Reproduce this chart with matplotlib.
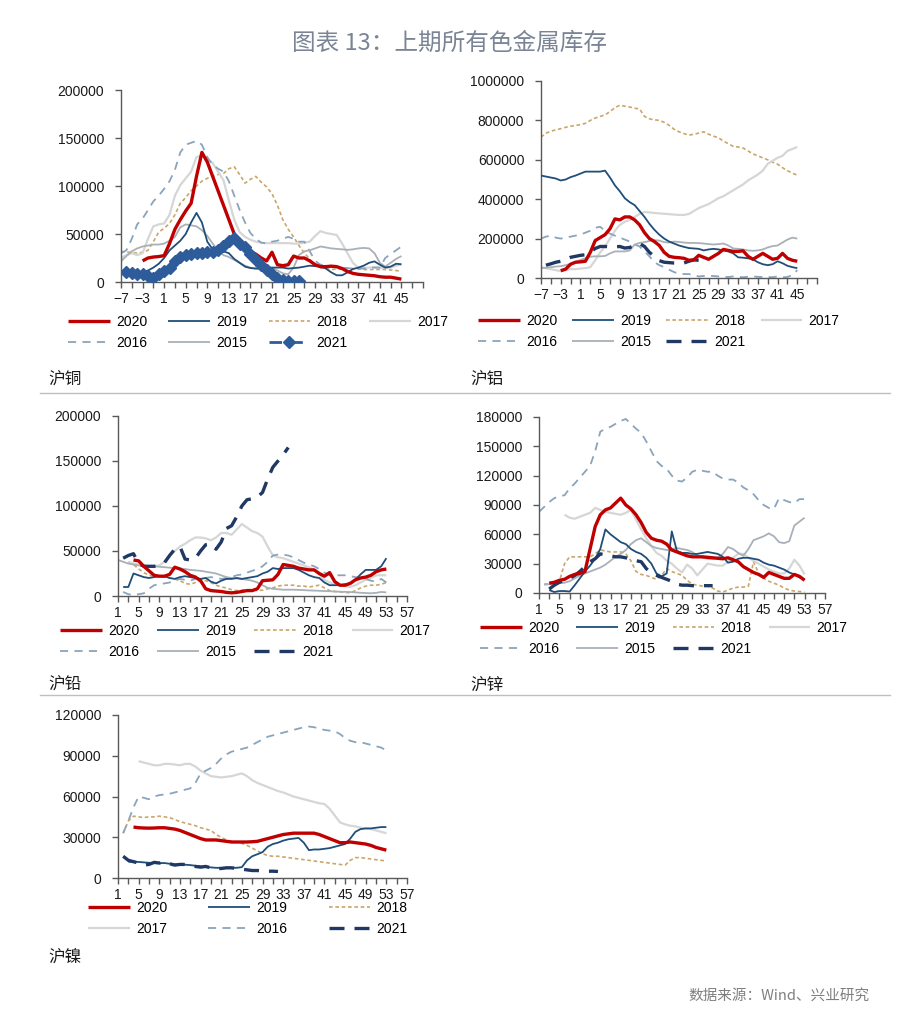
import matplotlib
matplotlib.use("Agg")
import matplotlib.pyplot as plt
from matplotlib.lines import Line2D
import numpy as np

plt.rcParams['font.family'] = ['Liberation Sans', 'Noto Sans CJK SC', 'DejaVu Sans']
plt.rcParams['axes.unicode_minus'] = True

YEARS = ['2020', '2019', '2018', '2017', '2016', '2015', '2021']

# ---------------- 沪铜 (copper) ----------------
CU_2020_START = -3
CU_2020 = [22000, 25000, 26000, 26500, 27500, 40000, 55000, 65000, 74000, 82000, 110000, 135000, 125000, 110000,
           95000, 80000, 65000, 50000, 40000, 35000, 32000, 29000, 25000, 22000, 31000, 18000, 17000, 18000, 27000,
           25000, 25000, 22000, 18000, 16000, 16000, 16500, 16000, 14000, 11000, 9000, 8000, 7500, 7000, 6500, 5500,
           5000, 5000, 4000, 3000]
CU_2019_START = -7
CU_2019 = [10000, 9000, 8500, 9000, 10000, 12000, 15000, 19000, 25000, 33000, 38000, 43000, 50000, 62000, 72000,
           62000, 42000, 34000, 32000, 32000, 30000, 24000, 20000, 16000, 14500, 14000, 14500, 15000, 15000, 15000,
           15000, 14000, 14500, 15000, 16000, 17000, 16500, 16000, 14000, 10000, 7000, 7000, 10000, 13500, 15000,
           17000, 20000, 21500, 18000, 15000, 16000, 19000, 18500]
CU_2018_START = -7
CU_2018 = [32000, 31000, 31000, 30000, 31000, 33000, 42000, 52000, 56000, 61000, 70000, 82000, 88000, 95000, 100000,
           105000, 108000, 110000, 112000, 113000, 118000, 120000, 112000, 103000, 107000, 110000, 104000, 99000,
           92000, 80000, 65000, 55000, 47000, 38000, 30000, 24000, 17000, 15000, 14000, 13000, 13500, 13500, 14000,
           14000, 13500, 13000, 13000, 13000, 13000, 13000, 12500, 12000, 11000]
CU_2017_START = -7
CU_2017 = [25000, 28000, 30000, 28000, 30000, 45000, 58000, 60000, 61000, 70000, 90000, 101000, 108000, 115000,
           130000, 132000, 128000, 124000, 115000, 106000, 85000, 65000, 52000, 47000, 44000, 42000, 41000, 40500,
           40500, 40500, 40500, 40500, 40000, 40000, 41000, 42000, 48000, 53000, 51000, 50000, 49000, 40000, 30000,
           20000, 15000, 14500, 15000, 15500, 15000, 14500, 15000, 17000, 18000]
CU_2016_START = -7
CU_2016 = [30000, 33000, 45000, 60000, 66000, 75000, 84000, 90000, 97000, 105000, 117000, 135000, 143000, 145000,
           147000, 143000, 130000, 122000, 118000, 115000, 105000, 90000, 75000, 62000, 51000, 45000, 41000, 40000,
           42000, 43000, 45000, 47000, 45000, 42000, 42000, 32000, 22000, 18000, 17000, 16000, 15000, 15000, 14500,
           14000, 14000, 14000, 14500, 15000, 15000, 25000, 29000, 33000, 37000]
CU_2015_START = -7
CU_2015 = [21500, 27000, 32000, 35000, 37000, 38000, 39000, 39000, 40000, 43000, 47000, 57000, 60000, 59000, 58000,
           54000, 48000, 40000, 33000, 28000, 26000, 23000, 20000, 17000, 15000, 14000, 13000, 14000, 14500, 12000,
           9000, 8000, 15000, 28000, 32000, 33000, 35000, 37000, 36000, 35000, 34500, 34000, 33500, 34000, 35000,
           35500, 35000, 30000, 20000, 16000, 20000, 24000, 27000]
CU_2021_START = -6
CU_2021 = [10000, 9000, 8500, 8000, 6000, 4000, 8000, 11000, 14500, 22000, 26000, 28000, 29000, 30000, 30500, 31000,
           31000, 33000, 37000, 43000, 46000, 40000, 36000, 29000, 23000, 18000, 13000, 8000, 4000, 2000, 1500,
           1000, 1000]

# ---------------- 沪铝 (aluminium) ----------------
AL_2020_START = -3
AL_2020 = [37000, 45000, 70000, 80000, 82000, 85000, 130000, 190000, 205000, 220000, 250000, 300000, 295000, 310000,
           310000, 295000, 270000, 230000, 200000, 185000, 165000, 130000, 110000, 105000, 103000, 100000, 90000,
           92000, 115000, 105000, 95000, 110000, 125000, 145000, 140000, 135000, 135000, 138000, 110000, 95000,
           110000, 125000, 110000, 95000, 100000, 125000, 100000, 90000, 85000]
AL_2019_START = -7
AL_2019 = [520000, 515000, 510000, 505000, 495000, 500000, 512000, 520000, 530000, 540000, 540000, 540000, 540000,
           545000, 510000, 470000, 440000, 405000, 385000, 370000, 340000, 310000, 275000, 245000, 220000, 200000,
           185000, 175000, 165000, 158000, 152000, 150000, 148000, 140000, 145000, 148000, 145000, 140000, 135000,
           125000, 105000, 103000, 100000, 95000, 80000, 70000, 65000, 70000, 85000, 75000, 62000, 55000, 50000]
AL_2018_START = -7
AL_2018 = [715000, 735000, 745000, 752000, 758000, 765000, 770000, 775000, 778000, 785000, 800000, 812000, 820000,
           828000, 845000, 865000, 877000, 872000, 868000, 862000, 858000, 820000, 808000, 803000, 800000, 790000,
           775000, 755000, 742000, 733000, 725000, 730000, 735000, 742000, 730000, 720000, 712000, 695000, 682000,
           668000, 665000, 660000, 645000, 630000, 620000, 610000, 600000, 588000, 578000, 560000, 545000, 532000,
           522000]
AL_2017_START = -7
AL_2017 = [55000, 50000, 45000, 40000, 35000, 40000, 45000, 45000, 48000, 50000, 55000, 90000, 130000, 160000,
           200000, 240000, 270000, 285000, 295000, 310000, 325000, 335000, 333000, 330000, 328000, 326000, 324000,
           322000, 320000, 320000, 325000, 340000, 355000, 365000, 375000, 390000, 405000, 415000, 430000, 445000,
           460000, 475000, 495000, 510000, 525000, 545000, 580000, 595000, 610000, 620000, 645000, 655000, 665000]
AL_2016_START = -7
AL_2016 = [200000, 210000, 215000, 205000, 200000, 205000, 210000, 215000, 220000, 230000, 240000, 255000, 260000,
           240000, 225000, 215000, 205000, 195000, 185000, 170000, 160000, 135000, 110000, 80000, 65000, 55000,
           42000, 30000, 22000, 20000, 20000, 15000, 8000, 10000, 12000, 10000, 8000, 6000, 5000, 8000, 5000, 4000,
           6000, 8000, 6000, 5000, 5000, 4000, 8000, 3000, 5000, 15000, 40000]
AL_2015_START = -7
AL_2015 = [50000, 52000, 55000, 58000, 60000, 65000, 72000, 80000, 92000, 100000, 108000, 110000, 110000, 112000,
           125000, 135000, 135000, 135000, 140000, 170000, 178000, 182000, 188000, 192000, 190000, 182000, 180000,
           185000, 183000, 180000, 178000, 178000, 177000, 175000, 172000, 170000, 172000, 175000, 165000, 150000,
           148000, 145000, 140000, 138000, 140000, 145000, 155000, 162000, 165000, 180000, 195000, 205000, 200000]
AL_2021_START = -6
AL_2021 = [65000, 72000, 80000, 85000, 95000, 105000, 110000, 115000, 118000, 130000, 150000, 160000, 160000,
           158000, 158000, 160000, 152000, 155000, 165000, 175000, 160000, 130000, 110000, 88000, 80000, 78000,
           76000, 76000, 76000, 85000, 92000, 90000, 85000]

# ---------------- 沪铅 (lead) ----------------
PB_2020_START = 4
PB_2020 = [40000, 39000, 33000, 28000, 23000, 22000, 22000, 24000, 32000, 30000, 27000, 23000, 21000, 17000, 8000,
           6000, 5500, 5000, 4000, 3500, 4000, 5000, 6000, 6000, 8000, 17000, 17500, 18000, 24000, 35000, 34000,
           33000, 31000, 30000, 29000, 29000, 25000, 22000, 26000, 16000, 12000, 12000, 14000, 18000, 20000, 21000,
           23000, 27000, 29000, 30000]
PB_2019_START = 2
PB_2019 = [10000, 10000, 25000, 23000, 21000, 20000, 21000, 22000, 22000, 20000, 19000, 21000, 22000, 21000, 20000,
           19000, 20000, 16000, 14000, 17000, 19000, 19000, 20000, 19000, 20000, 21000, 22000, 25000, 27000, 31000,
           30000, 31000, 31000, 31000, 29000, 26000, 23000, 21000, 20000, 15000, 12000, 12000, 12000, 13000, 14000,
           18000, 24000, 29000, 29000, 29000, 33000, 42000]
PB_2018_START = 3
PB_2018 = [38000, 35000, 30000, 26000, 23000, 22000, 22000, 21000, 20000, 19000, 17000, 14000, 13000, 15000, 17000,
           17000, 15000, 12000, 10000, 9000, 7000, 6000, 6500, 7000, 7000, 6000, 6500, 8000, 9000, 11000, 12000,
           12000, 12000, 11000, 11000, 10000, 11000, 12000, 9000, 6000, 5000, 4500, 4000, 3500, 6000, 9000, 11000,
           12000, 12000, 13000, 15000]
PB_2017_START = 3
PB_2017 = [38000, 36000, 35000, 34000, 33000, 33000, 34000, 38000, 45000, 50000, 55000, 58000, 62000, 65000, 65000,
           64000, 62000, 65000, 70000, 70000, 68000, 74000, 80000, 76000, 72000, 70000, 66000, 55000, 45000, 43000,
           42000, 40000, 38000, 36000, 34000, 32000, 29000, 24000, 18000, 15000, 13000, 12000, 11000, 10000, 12000,
           15000, 18000, 20000, 23000, 23000, 23000]
PB_2016_START = 2
PB_2016 = [4500, 2000, 1000, 2000, 3000, 8000, 12000, 13000, 14000, 15000, 17000, 19000, 18000, 17000, 19000, 20000,
           20000, 21000, 20000, 19000, 20000, 21000, 23000, 24000, 26000, 28000, 30000, 33000, 38000, 45000, 46000,
           46000, 45000, 43000, 40000, 37000, 35000, 33000, 30000, 26000, 23000, 23000, 23000, 23000, 22000, 21000,
           20000, 19000, 17000, 16000, 19000, 15000]
PB_2015_START = 1
PB_2015 = [40000, 38000, 36000, 35000, 34000, 33500, 33000, 33000, 32500, 32000, 31500, 31000, 30500, 30000, 29000,
           28500, 28000, 27000, 26000, 25000, 23000, 21000, 20000, 19500, 19000, 18000, 17000, 15000, 12000, 9000,
           8000, 7500, 7000, 7000, 7000, 6800, 6500, 6200, 6000, 5800, 5500, 5300, 5000, 4800, 4600, 4400, 4000,
           3600, 3300, 3000, 3500, 4500, 4000]
PB_2021_START = 2
PB_2021 = [42000, 45000, 47000, 36000, 33000, 33000, 33000, 34000, 37000, 45000, 52000, 55000, 41000, 40000, 42000,
           50000, 57000, 58000, 52000, 60000, 75000, 78000, 88000, 100000, 107000, 108000, 110000, 115000, 130000,
           143000, 150000, 157000, 165000]

# ---------------- 沪锌 (zinc) ----------------
ZN_2020_START = 3
ZN_2020 = [10000, 11000, 13000, 14000, 17000, 19000, 20000, 22000, 45000, 68000, 80000, 85000, 87000, 92000, 97000,
           90000, 86000, 80000, 72000, 62000, 56000, 54000, 53000, 50000, 44000, 42000, 40000, 38000, 37000, 37000,
           37000, 36500, 36000, 35500, 35000, 36000, 34000, 32000, 27000, 24000, 21000, 19000, 16000, 21000, 19000,
           17000, 15000, 15000, 19000, 17000, 13000]
ZN_2019_START = 3
ZN_2019 = [3000, 1000, 2000, 2000, 1500, 8000, 15000, 22000, 28000, 35000, 45000, 65000, 60000, 56000, 52000, 50000,
           45000, 42000, 40000, 36000, 30000, 20000, 17000, 20000, 63000, 43000, 41000, 41000, 40000, 40000, 41000,
           42000, 41000, 40000, 37000, 31000, 32000, 35000, 36000, 36000, 35000, 34000, 31000, 29000, 28000, 26000,
           24000, 21000, 19000, 16000, 14000]
ZN_2018_START = 2
ZN_2018 = [9000, 9500, 10000, 12000, 30000, 37000, 37000, 37000, 37000, 37000, 40000, 44000, 43000, 42000, 42000,
           42000, 40000, 33000, 22000, 19000, 18000, 16000, 14000, 18000, 25000, 22000, 20000, 18000, 13000, 9000,
           8000, 7000, 7000, 5000, 2000, 1000, 3000, 5000, 6000, 6000, 7000, 32000, 20000, 15000, 12000, 10000,
           8000, 5000, 3000, 2000, 1500, 1000]
ZN_2017_START = 6
ZN_2017 = [80000, 77000, 76000, 78000, 80000, 82000, 87000, 85000, 83000, 82000, 81000, 80000, 82000, 85000, 75000,
           65000, 56000, 48000, 41000, 38000, 33000, 30000, 25000, 21000, 29000, 25000, 18000, 24000, 30000, 29000,
           28000, 28000, 32000, 36000, 40000, 40000, 36000, 33000, 30000, 27000, 24000, 22000, 20000, 20000, 25000,
           34000, 28000, 19000]
ZN_2016_START = 1
ZN_2016 = [83000, 88000, 93000, 97000, 99000, 100000, 107000, 112000, 118000, 124000, 130000, 145000, 165000,
           168000, 170000, 173000, 176000, 178000, 173000, 168000, 164000, 155000, 145000, 135000, 130000, 127000,
           120000, 115000, 114000, 118000, 124000, 126000, 125000, 124000, 124000, 120000, 117000, 116000, 116000,
           113000, 108000, 105000, 101000, 95000, 90000, 87000, 86000, 97000, 95000, 93000, 92000, 96000, 96000]
ZN_2015_START = 2
ZN_2015 = [8500, 9000, 9500, 10000, 10500, 12000, 15000, 18000, 20000, 22000, 24000, 26000, 29000, 33000, 37000,
           40000, 44000, 50000, 54000, 56000, 52000, 48000, 46000, 45000, 44000, 45000, 46000, 45000, 44000, 42000,
           38000, 36000, 35000, 35000, 36000, 40000, 47000, 45000, 41000, 38000, 45000, 54000, 56000, 58000, 61000,
           58000, 52000, 51000, 53000, 69000, 73000, 77000]
ZN_2021_START = 3
ZN_2021 = [4000, 8000, 11000, 13000, 15000, 18000, 22000, 27000, 32000, 35000, 40000, 39000, 38000, 37000, 37000,
           36000, 34000, 33000, 32000, 25000, 20000, 18000, 16000, 14000, 12000, 9000, 8000, 8000, 7500, 7500, 7500,
           7500, 7500]

# ---------------- 沪镍 (nickel) ----------------
NI_2020_START = 4
NI_2020 = [37500, 37000, 36800, 36700, 36800, 37000, 37000, 36500, 36000, 35000, 33500, 32000, 30500, 29000, 28000,
           28000, 28000, 27500, 27000, 26500, 26500, 26500, 26500, 26700, 27000, 28000, 29000, 30000, 31000, 32000,
           32500, 33000, 33000, 33000, 33000, 33000, 32000, 30500, 29000, 27500, 26000, 26000, 26500, 26000, 25500,
           25000, 24000, 22500, 21500, 20500]
NI_2019_START = 3
NI_2019 = [12000, 12000, 11800, 11500, 11200, 11000, 11000, 11000, 10500, 10000, 10000, 9800, 9500, 9000, 8500, 8000,
           7800, 7500, 7500, 7500, 7500, 7500, 8000, 13000, 16000, 17500, 19000, 23000, 25000, 26000, 27500, 28500,
           29000, 29500, 26000, 20500, 21000, 21000, 21500, 22000, 23000, 24000, 25000, 29000, 34000, 36000, 36500,
           36500, 37000, 37500, 37500]
NI_2018_START = 2
NI_2018 = [33000, 42000, 45500, 45000, 44500, 45000, 45000, 45500, 45000, 44500, 43000, 41500, 40500, 39500, 38500,
           37000, 36000, 35000, 32000, 30000, 28000, 27000, 26500, 25500, 24000, 22000, 20000, 18000, 16500, 16000,
           16000, 15500, 15000, 14500, 14000, 13500, 13000, 12500, 12000, 11500, 11000, 10500, 10000, 9500, 13000,
           15000, 15000, 14500, 14000, 13500, 13000, 12500]
NI_2017_START = 5
NI_2017 = [86000, 85000, 84000, 83000, 83000, 84000, 84000, 83500, 83000, 84000, 84000, 82000, 79000, 77000, 75000,
           74500, 74000, 74500, 75000, 76000, 77000, 75000, 72000, 70000, 68500, 67000, 65500, 64000, 63000, 61500,
           60000, 59000, 58000, 57000, 56000, 55000, 54500, 51000, 46000, 41000, 39500, 38500, 38000, 37000, 36500,
           36000, 35000, 34000, 33000]
NI_2016_START = 2
NI_2016 = [33000, 42000, 52000, 60000, 59000, 58000, 60000, 61000, 61500, 62000, 63000, 64000, 65000, 66000, 70000,
           77000, 79000, 81000, 84000, 88000, 91000, 93000, 94000, 95000, 96000, 98000, 100000, 102000, 104000,
           105000, 106000, 107000, 108000, 109000, 110000, 111000, 111500, 111000, 110000, 109000, 108500, 108000,
           106000, 103000, 101000, 100000, 100000, 99000, 98000, 97000, 96000, 94000]
NI_2021_START = 2
NI_2021 = [16000, 13000, 12000, 11000, 9500, 10000, 11500, 11000, 12000, 10500, 9500, 10000, 10000, 9000, 8500, 8000,
           8500, 7500, 7000, 7000, 7500, 7500, 7000, 6500, 6000, 5500, 5500, 5200, 5000, 5000, 4800]

# ---------------- styles ----------------
STYLE = {
    '2020': dict(color='#c00000', lw=2.4, ls='-'),
    '2019': dict(color='#1f4e79', lw=1.3, ls='-'),
    '2018': dict(color='#c9a66b', lw=1.2, ls=(0, (2.2, 1.6))),
    '2017': dict(color='#d6d6d6', lw=1.6, ls='-'),
    '2016': dict(color='#8aa4bc', lw=1.3, ls=(0, (4.5, 3.5))),
    '2015': dict(color='#a9b0b7', lw=1.3, ls='-'),
    '2021': dict(color='#1f3864', lw=2.4, ls=(0, (4.5, 3.0))),
}

W, H = 900, 1016
fig = plt.figure(figsize=(W / 100, H / 100), dpi=100)
FS = 10


def add_ax(l, r, t, b):
    return fig.add_axes([l / W, 1 - b / H, (r - l) / W, (b - t) / H])


def draw_panel(ax, series, xlim, xlabels, yticks, copper=False):
    handles = {}
    for year, (start, vals) in series.items():
        x = np.arange(start, start + len(vals))
        st = STYLE[year]
        if copper and year == '2021':
            h, = ax.plot(x, vals, color='#2e5c9a', lw=2.0, ls=(0, (4.5, 3.0)), marker='D',
                         markersize=6.5, markerfacecolor='#2e5c9a', markeredgecolor='#2e5c9a', zorder=5)
        else:
            z = 4 if year == '2020' else (3 if year in ('2019', '2021') else 2)
            h, = ax.plot(x, vals, color=st['color'], lw=st['lw'], ls=st['ls'], zorder=z,
                         solid_capstyle='butt', dash_capstyle='butt')
        handles[year] = h
    ax.set_xlim(*xlim)
    ax.set_ylim(yticks[0], yticks[-1])
    ax.set_yticks(yticks)
    ax.set_yticklabels([str(v) for v in yticks])
    ax.set_xticks(xlabels)
    ax.set_xticklabels([str(v).replace('-', '\u2212') for v in xlabels])
    ax.set_xticks(np.arange(xlim[0], xlim[1] + 1, 2), minor=True)
    for s in ('top', 'right'):
        ax.spines[s].set_visible(False)
    for s in ('left', 'bottom'):
        ax.spines[s].set_color('#595959')
        ax.spines[s].set_linewidth(1.0)
    ax.tick_params(axis='both', which='both', direction='out', length=4, width=1.0, color='#595959',
                   labelsize=FS, labelcolor='#1a1a1a')
    ax.tick_params(axis='y', which='major', pad=8)
    ax.tick_params(axis='x', which='major', pad=3)
    ax.patch.set_alpha(0)
    return handles


def add_legend(handles, order, ncol, x, y, colsp):
    nrows = -(-len(order) // ncol)
    colmajor = []
    for c in range(ncol):
        for r in range(nrows):
            i = r * ncol + c
            if i < len(order):
                colmajor.append(order[i])
    leg = fig.legend([handles[k] for k in colmajor], colmajor, loc='upper left',
                     bbox_to_anchor=(x / W, 1 - y / H), ncol=ncol, frameon=False,
                     fontsize=FS, handlelength=3.0, handletextpad=0.45, columnspacing=colsp,
                     labelspacing=0.5, borderpad=0, borderaxespad=0, numpoints=1)
    return leg


# Panel 1: copper
ax1 = add_ax(121, 423, 90, 282)
h1 = draw_panel(ax1, {'2020': (CU_2020_START, CU_2020), '2019': (CU_2019_START, CU_2019),
                      '2018': (CU_2018_START, CU_2018), '2017': (CU_2017_START, CU_2017),
                      '2016': (CU_2016_START, CU_2016), '2015': (CU_2015_START, CU_2015),
                      '2021': (CU_2021_START, CU_2021)},
                (-7, 49), list(range(-7, 46, 4)), [0, 50000, 100000, 150000, 200000], copper=True)
add_legend(h1, YEARS, 4, 68, 315, 1.53)

# Panel 2: aluminium
ax2 = add_ax(541, 817, 81, 278)
h2 = draw_panel(ax2, {'2018': (AL_2018_START, AL_2018), '2017': (AL_2017_START, AL_2017),
                      '2016': (AL_2016_START, AL_2016), '2015': (AL_2015_START, AL_2015),
                      '2019': (AL_2019_START, AL_2019), '2021': (AL_2021_START, AL_2021),
                      '2020': (AL_2020_START, AL_2020)},
                (-7, 49), list(range(-7, 46, 4)), [0, 200000, 400000, 600000, 800000, 1000000])
add_legend(h2, YEARS, 4, 478, 314, 1.09)

# Panel 3: lead
ax3 = add_ax(118, 407, 416, 596)
h3 = draw_panel(ax3, {'2018': (PB_2018_START, PB_2018), '2017': (PB_2017_START, PB_2017),
                      '2016': (PB_2016_START, PB_2016), '2015': (PB_2015_START, PB_2015),
                      '2019': (PB_2019_START, PB_2019), '2021': (PB_2021_START, PB_2021),
                      '2020': (PB_2020_START, PB_2020)},
                (1, 57), list(range(1, 58, 4)), [0, 50000, 100000, 150000, 200000])
add_legend(h3, YEARS, 4, 60, 624, 1.31)

# Panel 4: zinc
ax4 = add_ax(539, 825, 417, 593)
h4 = draw_panel(ax4, {'2018': (ZN_2018_START, ZN_2018), '2017': (ZN_2017_START, ZN_2017),
                      '2016': (ZN_2016_START, ZN_2016), '2015': (ZN_2015_START, ZN_2015),
                      '2019': (ZN_2019_START, ZN_2019), '2021': (ZN_2021_START, ZN_2021),
                      '2020': (ZN_2020_START, ZN_2020)},
                (1, 57), list(range(1, 58, 4)), [0, 30000, 60000, 90000, 120000, 150000, 180000])
add_legend(h4, YEARS, 4, 480, 621, 1.24)

# Panel 5: nickel
ax5 = add_ax(118, 407, 715, 878)
h5 = draw_panel(ax5, {'2018': (NI_2018_START, NI_2018), '2017': (NI_2017_START, NI_2017),
                      '2016': (NI_2016_START, NI_2016), '2019': (NI_2019_START, NI_2019),
                      '2021': (NI_2021_START, NI_2021), '2020': (NI_2020_START, NI_2020)},
                (1, 57), list(range(1, 58, 4)), [0, 30000, 60000, 90000, 120000])
add_legend(h5, ['2020', '2019', '2018', '2017', '2016', '2021'], 3, 88, 901, 2.97)

# Titles and labels
CJK = ['Noto Sans CJK SC', 'DejaVu Sans']
fig.text(450 / W, 1 - 43 / H, '图表 13：上期所有色金属库存', ha='center', va='center', fontsize=17,
         color='#7a8494', family=CJK, fontweight='medium')
for (px, py, s) in [(48, 380, '沪铜'), (470, 380, '沪铝'), (48, 685, '沪铅'), (470, 685, '沪锌'),
                    (48, 957, '沪镍')]:
    fig.text(px / W, 1 - py / H, s, ha='left', va='center', fontsize=12, color='#1a1a1a', family=CJK)
for py in (393, 695):
    fig.add_artist(Line2D([40 / W, 890 / W], [1 - py / H, 1 - py / H], color='#bfbfbf', lw=1.0))
fig.text(870 / W, 1 - 996 / H, '数据来源：Wind、兴业研究', ha='right', va='center', fontsize=10.5,
         color='#7f7f7f', family=CJK)

fig.savefig('out.png', dpi=100, facecolor='white')
